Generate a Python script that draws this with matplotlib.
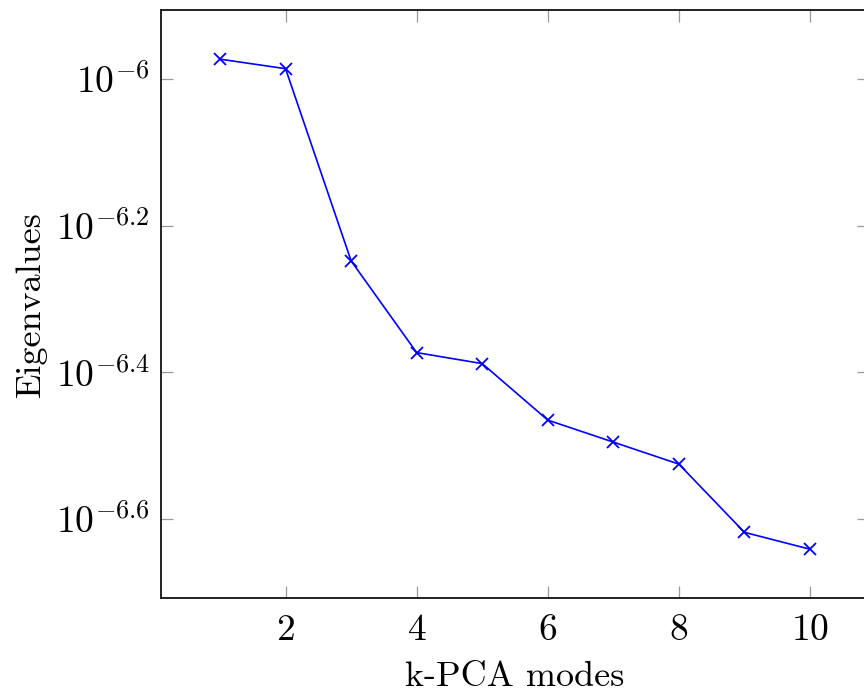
import numpy as np
import matplotlib
matplotlib.use("Agg")
import matplotlib.pyplot as plt
from matplotlib.ticker import FixedLocator, NullLocator

plt.rcParams['mathtext.fontset'] = 'cm'

modes = [1, 2, 3, 4, 5, 6, 7, 8, 9, 10]
log_eigs = [-5.973, -5.986, -6.248, -6.373, -6.388, -6.465, -6.495, -6.525, -6.618, -6.641]
eigs = [10 ** v for v in log_eigs]
xticks = [2, 4, 6, 8, 10]
ytick_exps = [-6, -6.2, -6.4, -6.6]
ytick_labels = [r'$10^{-6}$', r'$10^{-6.2}$', r'$10^{-6.4}$', r'$10^{-6.6}$']

fig = plt.figure(figsize=(8.64, 6.94), dpi=100)
ax = fig.add_axes([161/864, 1 - 598/694, (869 - 161)/864, (598 - 10)/694])
ax.plot(modes, eigs, color='#0000ff', lw=1.2, marker='x', ms=9, mew=1.3)
ax.set_yscale('log')
ax.set_xlim(0.1, 10.9)
ax.set_ylim(10 ** -6.7075, 10 ** -5.906)
ax.yaxis.set_major_locator(FixedLocator([10 ** e for e in ytick_exps]))
ax.yaxis.set_minor_locator(NullLocator())
ax.set_yticklabels(ytick_labels)
ax.set_xticks(xticks)
ax.set_xticklabels([f'${t}$' for t in xticks])
ax.tick_params(direction='in', length=8.5, width=0.9, color='#999999',
               top=True, right=True, labelsize=27)
ax.tick_params(axis='x', pad=10)
ax.tick_params(axis='y', pad=8)
for s in ax.spines.values():
    s.set_linewidth(1.4)
    s.set_color('#222222')
ax.set_xlabel('k-PCA modes', fontfamily='cmr10', fontsize=26, labelpad=10)
ax.set_ylabel('Eigenvalues', fontfamily='cmr10', fontsize=26, labelpad=6)
fig.savefig('out.png', dpi=100)
